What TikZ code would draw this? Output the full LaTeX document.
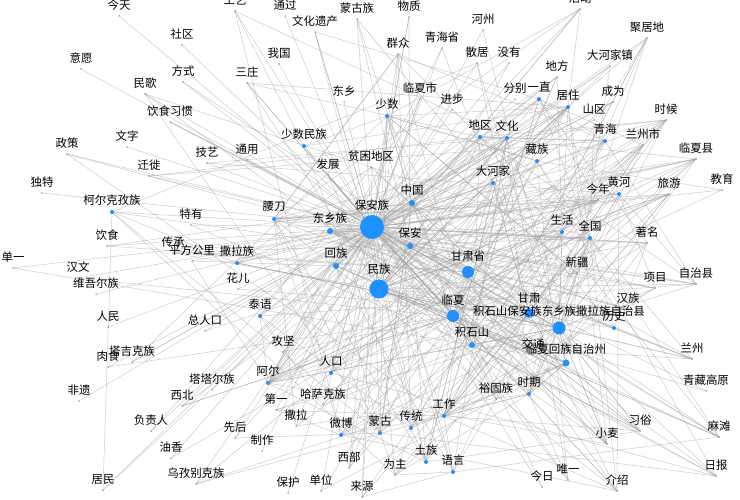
\documentclass[tikz,border=0pt]{standalone}
\usepackage{fontspec}
\newfontfamily\cjk{Noto Sans CJK SC}
\usetikzlibrary{backgrounds}
\definecolor{nodeblue}{RGB}{30,144,255}
\definecolor{linkgray}{RGB}{165,165,165}
\tikzset{
  dot/.style={circle, fill=nodeblue, inner sep=0pt, minimum size=#1bp},
  word/.style={font=\cjk\fontsize{11.5}{12}\selectfont, inner sep=0pt, anchor=center},
  link/.style={draw=linkgray, line width=0.5bp, draw opacity=0.55}
}
\newcommand\wordlist{
gongyi/235/11/1.5/工艺, jintian/119/16/1.5/今天, tongguo/285/16/1.5/通过,
mengguzu/357/19/1.5/蒙古族, wuzhi/409/17/1.5/物质, huodong/580/9/1.5/活动,
shequ/182/45/1.5/社区, wenhuayichan/315/32/1.5/文化遗产, hezhou/483/30/1.5/河州,
jujudi/647/38/1.5/聚居地, yiyuan/81/69/1.5/意愿, fangshi/183/82/1.5/方式,
sanzhuang/247/83/1.5/三庄, woguo/279/64/1.5/我国, qunzhong/398/54/1.5/群众,
qinghaisheng/442/48/1.5/青海省, sanju/477/63/1.5/散居, meiyou/509/63/1.5/没有,
dahejiazhen/610/66/1.5/大河家镇, difang/557/77/1.5/地方, minge/145/94/1.5/民歌,
yinshixiguan/170/122/1.5/饮食习惯, dongxiang/344/102/1.5/东乡, linxiashi/420/99/1.5/临夏市,
shaoshu/387/116/4/少数, jinbu/452/110/1.5/进步, fenbie/515/99/1.5/分别,
yizhi/539/99/4/一直, juzhu/568/107/4/居住, chengwei/613/102/1.5/成为,
shanqu/594/120/1.5/山区, shihou/666/120/1.5/时候, wenzi/127/147/1.5/文字,
zhengce/67/154/1.5/政策, jiyi/207/163/1.5/技艺, tongyong/247/160/1.5/通用,
shaoshuminzu/304/146/4/少数民族, diqu/480/137/4/地区, wenhua/507/138/4/文化,
qinghai/605/141/4/青海, lanzhoushi/643/145/1.5/兰州市, linxiaxian/696/159/1.5/临夏县,
zangzu/537/161/4/藏族, qianxi/149/176/1.5/迁徙, fazhan/328/175/1.5/发展,
pinkun/371/167/1.5/贫困地区, dahejia/493/183/4/大河家, dute/42/193/1.5/独特,
keerkezi/112/212/4/柯尔克孜族, zhongguo/412/203/6/中国, jinnian/598/200/1.5/今年,
huanghe/619/194/4/黄河, lvyou/669/194/1.5/旅游, jiaoyu/722/190/1.5/教育,
teyou/191/225/1.5/特有, yaodao/274/219/4/腰刀, baoanzu/372/227/24/保安族,
dongxiangzu/330/231/6/东乡族, shenghuo/562/232/4/生活, quanguo/590/238/4/全国,
zhuming/647/243/1.5/著名, yinshi/107/246/1.5/饮食, chuancheng/173/253/1.5/传承,
pingfang/192/261/1.5/平方公里, salazu/237/263/4/撒拉族, baoan/410/246/6/保安,
huizu/336/266/6/回族, gansusheng/468/272/12/甘肃省, danyi/13/268/1.5/单一,
hanwen/78/278/1.5/汉文, huaer/238/289/1.5/花儿, minzu/379/289/19/民族,
xinjiang/577/273/1.5/新疆, zizhi/696/284/1.5/自治县, xiangmu/655/288/1.5/项目,
weiwuer/96/294/1.5/维吾尔族, taiyu/260/316/4/泰语, linxia/453/316/12/临夏,
gansu/529/313/10/甘肃, hanzu/628/309/1.5/汉族, jishishanxian/559/328/13/积石山保安族东乡族撒拉族自治县,
lishi/614/328/4/历史, renmin/108/327/1.5/人民, zongrenkou/205/331/1.5/总人口,
jishishan/472/345/6/积石山, gongjian/283/352/1.5/攻坚, jiaotong/533/355/1.5/交通,
linxiazhou/566/363/7/临夏回族自治州, lanzhou/692/359/1.5/兰州, tajikezu/132/362/1.5/塔吉克族,
roushi/108/367/1.5/肉食, renkou/331/373/4/人口, aer/268/383/4/阿尔,
tataer/212/390/1.5/塔塔尔族, qingzang/706/391/1.5/青藏高原, shiqi/529/394/4/时期,
yuguzu/496/399/1.5/裕固族, feiyi/79/401/1.5/非遗, xibei/182/406/1.5/西北,
diyi/276/410/1.5/第一, hasake/323/405/1.5/哈萨克族, gongzuo/444/416/4/工作,
sala/296/426/1.5/撒拉, chuantong/411/428/4/传统, weibo/341/435/4/微博,
menggu/380/433/4/蒙古, fuzeren/151/431/1.5/负责人, xianhou/235/438/1.5/先后,
xisu/640/431/1.5/习俗, xiaomai/607/444/1.5/小麦, matan/719/437/1.5/麻滩,
zhizuo/262/451/1.5/制作, youxiang/171/458/1.5/油香, tuzu/426/462/4/土族,
xibu/349/468/1.5/西部, yuyan/453/472/4/语言, weizhu/395/475/1.5/为主,
ribao/716/476/1.5/日报, jinri/542/487/1.5/今日, weiyi/568/480/1.5/唯一,
jieshao/617/491/1.5/介绍, wuzibieke/196/484/1.5/乌孜别克族, jumin/103/490/1.5/居民,
baohu/288/493/1.5/保护, danwei/321/491/1.5/单位, laiyuan/362/497/1.5/来源}
\pgfmathdeclarerandomlist{hubs}{{baoanzu}{baoanzu}{baoanzu}{minzu}{minzu}{minzu}{minzu}{minzu}
{gansusheng}{gansusheng}{gansusheng}{linxia}{linxia}{linxia}{jishishanxian}{jishishanxian}{jishishanxian}
{gansu}{gansu}{gansu}{zhongguo}{zhongguo}{dongxiangzu}{dongxiangzu}{huizu}{huizu}{baoan}{baoan}
{jishishan}{jishishan}{linxiazhou}{linxiazhou}{shaoshu}{diqu}{wenhua}{zangzu}{dahejia}{yizhi}{juzhu}
{qinghai}{shenghuo}{quanguo}{huanghe}{shaoshuminzu}{yaodao}{salazu}{taiyu}{keerkezi}{aer}{renkou}
{weibo}{menggu}{chuantong}{gongzuo}{tuzu}{yuyan}{shiqi}{lishi}}

\begin{document}
\begin{tikzpicture}[x=1bp,y=-1bp,label distance=10bp]
\pgfmathsetseed{2718}
\useasboundingbox (0,0) rectangle (740,500);

\foreach \nm/\x/\y/\d/\txt in \wordlist
  \node[dot=\d, label={[word]90:\txt}] (\nm) at (\x,\y) {};

\begin{scope}[on background layer]
\fill[white] (0,0) rectangle (740,500);
\foreach \nm/\x/\y/\d/\txt in \wordlist {
  \draw[link] (\nm.center) -- (baoanzu.center);
  \pgfmathtruncatemacro\kmax{1+\x/65}
  \pgfmathrandominteger{\k}{0}{\kmax}
  \ifnum\k>0
    \foreach \j in {1,...,\k} {
      \pgfmathrandomitem{\t}{hubs}
      \draw[link] (\nm.center) -- (\t.center);
    }
  \fi
}
\end{scope}
\end{tikzpicture}
\end{document}
